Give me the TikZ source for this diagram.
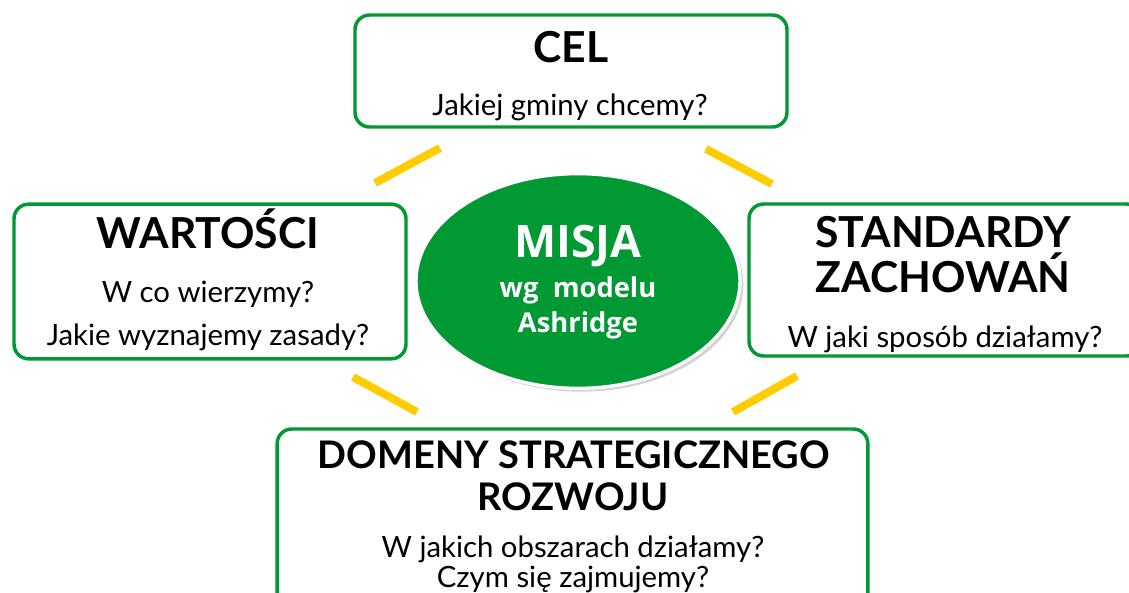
\documentclass[tikz,border=0pt]{standalone}
\usepackage{fontspec}
\setmainfont{Lato}
\newfontfamily\misjafont{Open Sans}
\usetikzlibrary{shadows}
\usetikzlibrary{positioning}
\usetikzlibrary{shapes}
\definecolor{zielony}{RGB}{0,153,51}
\definecolor{zolty}{RGB}{255,204,0}
\tikzstyle{pole}=[rectangle,draw=zielony,line width=2.6pt,rounded corners=11pt,fill=white,inner sep=0pt]
\tikzstyle{misja}=[ellipse,fill=zielony,draw=white,line width=2.5pt,minimum width=243pt,minimum height=161pt,inner sep=0pt,drop shadow={shadow xshift=2.5pt,shadow yshift=-2.5pt,opacity=0.35}]
\tikzstyle{tytul}=[font=\fontsize{32}{32}\selectfont\bfseries,anchor=base,inner sep=0pt]
\tikzstyle{pytanie}=[font=\fontsize{22}{22}\selectfont,anchor=base,inner sep=0pt]
\tikzstyle{bialy}=[text=white,anchor=base,inner sep=0pt]
\tikzstyle{lacznik}=[draw=zolty,line width=6pt]

\begin{document}
\begin{tikzpicture}[x=0.75pt,y=-0.75pt]

    \clip (0,0) rectangle (1129,593);

    \foreach \pos/\name/\w/\h in {{(571,71)/cel/324pt/84pt}, {(210,281.5)/wartosci/294pt/116pt}, {(945,280)/standardy/294pt/114pt}, {(572.5,519)/domeny/443pt/135pt}}
        \node[pole,minimum width=\w,minimum height=\h] (\name) at \pos {};

    \node[misja] (srodek) at (578,281) {};

    \foreach \pos/\name/\label in {{(571,62)/celT/CEL}, {(208,248)/wartosciT/WARTOŚCI}, {(943,247)/standardyT1/STANDARDY}, {(943,292)/standardyT2/ZACHOWAŃ}}
        \node[tytul] (\name) at \pos {\label};
    \foreach \pos/\name/\label in {{(574,468)/domenyT1/DOMENY STRATEGICZNEGO}, {(573,510)/domenyT2/ROZWOJU}}
        \node[tytul,font=\fontsize{28.5}{28.5}\selectfont\bfseries] (\name) at \pos {\label};

    \foreach \pos/\name/\label in {{(570,115)/celQ/Jakiej gminy chcemy?}, {(208,302)/wartosciQ1/W co wierzymy?}, {(208,345)/wartosciQ2/Jakie wyznajemy zasady?}, {(945,347)/standardyQ/W jaki sposób działamy?}, {(573,557)/domenyQ1/W jakich obszarach działamy?}, {(573,587)/domenyQ2/Czym się zajmujemy?}}
        \node[pytanie] (\name) at \pos {\label};

    % tekst w elipsie
    \node[bialy,font=\misjafont\fontsize{33.5}{33.5}\selectfont\bfseries] (misjaT) at (578,257) {MISJA};
    \foreach \pos/\name/\label in {{(578,297)/misjaQ1/wg\ \ modelu}, {(578,332)/misjaQ2/Ashridge}}
        \node[bialy,font=\misjafont\fontsize{20.5}{20.5}\selectfont\bfseries] (\name) at \pos {\label};

    % zolte laczniki
    \coordinate (tl1) at (375,183); \coordinate (tl2) at (440,148);
    \coordinate (tr1) at (706,149); \coordinate (tr2) at (772,184);
    \coordinate (bl1) at (353,377); \coordinate (bl2) at (417,412);
    \coordinate (br1) at (733,412); \coordinate (br2) at (797,376);
    \foreach \source/\dest in {tl1/tl2, tr1/tr2, bl1/bl2, br1/br2}
        \path[lacznik] (\source) -- (\dest);

\end{tikzpicture}
\end{document}
